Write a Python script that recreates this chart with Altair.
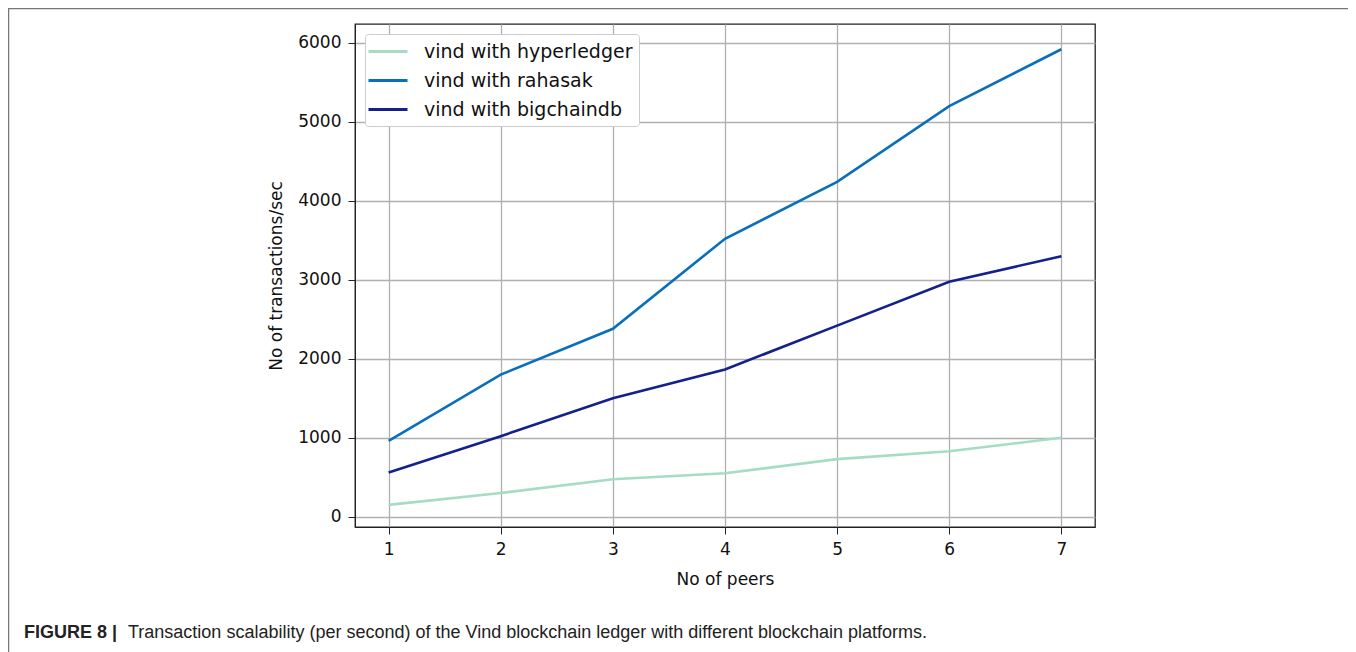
import altair as alt
import pandas as pd

peers = [1, 2, 3, 4, 5, 6, 7]
hyperledger = [150, 300, 475, 550, 730, 830, 1000]
rahasak = [960, 1800, 2380, 3520, 4240, 5200, 5920]
bigchaindb = [560, 1020, 1500, 1865, 2420, 2975, 3300]
series_names = ["vind with hyperledger", "vind with rahasak", "vind with bigchaindb"]
series_colors = ["#a6dcc4", "#0a6fba", "#14208c"]
x_ticks = [1, 2, 3, 4, 5, 6, 7]
y_ticks = [0, 1000, 2000, 3000, 4000, 5000, 6000]
caption_bold = "FIGURE 8 |"
caption_rest = "Transaction scalability (per second) of the Vind blockchain ledger with different blockchain platforms."

rows = []
for name, vals in zip(series_names, [hyperledger, rahasak, bigchaindb]):
    for p, v in zip(peers, vals):
        rows.append({"peers": p, "tps": v, "series": name})
df = pd.DataFrame(rows)

W, H = 740, 503
PL, PT = 347, 16

lines = alt.Chart(df).mark_line(strokeWidth=2.6, clip=True).encode(
    x=alt.X("peers:Q", title="No of peers",
            scale=alt.Scale(domain=[0.7, 7.3], nice=False, zero=False),
            axis=alt.Axis(values=x_ticks, format="d")),
    y=alt.Y("tps:Q", title="No of transactions/sec",
            scale=alt.Scale(domain=[-130, 6240], nice=False, zero=False),
            axis=alt.Axis(values=y_ticks, format="d")),
    color=alt.Color("series:N", sort=series_names,
                    scale=alt.Scale(domain=series_names, range=series_colors),
                    legend=alt.Legend(title=None, orient="top-left", offset=10,
                                      symbolType="M-1.4,0H2.5", symbolSize=400,
                                      symbolStrokeWidth=3, labelFontSize=19,
                                      labelFont="DejaVu Sans", labelColor="#111",
                                      labelOffset=30, rowPadding=7, labelLimit=0,
                                      padding=6, strokeColor="#cccccc",
                                      fillColor="white", cornerRadius=3)),
    detail="series:N",
)

cap_df = pd.DataFrame({"bold": [caption_bold], "rest": [caption_rest]})
cap1 = alt.Chart(cap_df).mark_text(align="left", baseline="alphabetic", fontSize=18,
                                   fontWeight="bold", font="Liberation Sans",
                                   color="#222").encode(
    text="bold:N", x=alt.value(24 - 8 - PL), y=alt.value(638 - 8 - PT))
cap2 = alt.Chart(cap_df).mark_text(align="left", baseline="alphabetic", fontSize=18,
                                   font="Liberation Sans", color="#222").encode(
    text="rest:N", x=alt.value(128 - 8 - PL), y=alt.value(638 - 8 - PT))
border = alt.Chart(cap_df).mark_rect(fill=None, stroke="#777777", strokeWidth=1.5).encode(
    x=alt.value(0.5 - PL), x2=alt.value(1345 - PL),
    y=alt.value(0.5 - PT), y2=alt.value(700 - PT))

chart = alt.layer(border, lines, cap1, cap2).properties(
    width=W, height=H,
    autosize=alt.AutoSizeParams(type="none"),
    padding={"left": PL, "top": PT, "right": 1348 - 8 - PL - W, "bottom": 644 - PT - H},
).configure_view(stroke="#222222", strokeWidth=1.3).configure_axis(
    labelFont="DejaVu Sans", titleFont="DejaVu Sans",
    labelFontSize=17, titleFontSize=17, labelColor="#111", titleColor="#111",
    titleFontWeight="normal", domainColor="#222222", tickColor="#222222",
    tickSize=7, gridColor="#b0b0b0", gridWidth=1.3, labelPadding=7,
).configure_axisX(titlePadding=14).configure_axisY(titlePadding=12)

chart.save("out.html", embed_options={"renderer": "svg", "actions": False})
